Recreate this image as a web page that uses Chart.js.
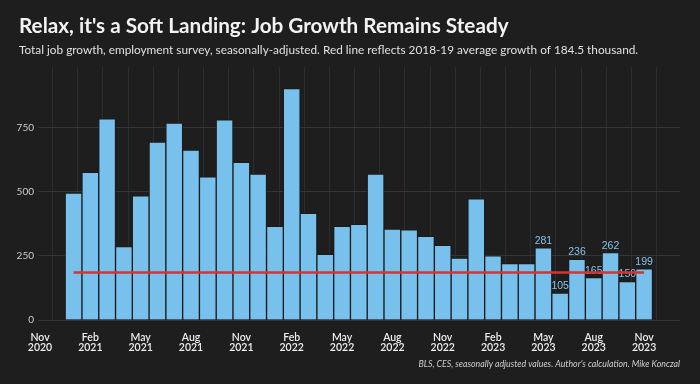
<!DOCTYPE html>
<html>
<head>
<meta charset="utf-8">
<script src="https://cdn.jsdelivr.net/npm/chart.js@4.4.0/dist/chart.umd.min.js"></script>
<style>
  html, body { margin: 0; padding: 0; background: #1e1e1e; }
  #wrap { width: 700px; height: 384px; position: relative; }
</style>
</head>
<body>
<div id="wrap"><canvas id="jobsChart"></canvas></div>
<script>
// data (thousands of jobs, monthly change)
const MONTHS = ['Jan', 'Feb', 'Mar', 'Apr', 'May', 'Jun', 'Jul', 'Aug', 'Sep', 'Oct', 'Nov', 'Dec'];

const months = [
  'Jan 2021', 'Feb 2021', 'Mar 2021', 'Apr 2021', 'May 2021', 'Jun 2021',
  'Jul 2021', 'Aug 2021', 'Sep 2021', 'Oct 2021', 'Nov 2021', 'Dec 2021',
  'Jan 2022', 'Feb 2022', 'Mar 2022', 'Apr 2022', 'May 2022', 'Jun 2022',
  'Jul 2022', 'Aug 2022', 'Sep 2022', 'Oct 2022', 'Nov 2022', 'Dec 2022',
  'Jan 2023', 'Feb 2023', 'Mar 2023', 'Apr 2023', 'May 2023', 'Jun 2023',
  'Jul 2023', 'Aug 2023', 'Sep 2023', 'Oct 2023', 'Nov 2023'
];
const jobs = [
  494, 575, 783, 286, 483, 693, 767, 662, 557, 779, 614, 568,
  365, 901, 415, 256, 365, 372, 568, 354, 351, 326, 291, 241,
  472, 250, 220, 220, 281, 105, 236, 165, 262, 150, 199
];
const labelledMonths = ['May 2023', 'Jun 2023', 'Jul 2023', 'Aug 2023', 'Sep 2023', 'Oct 2023', 'Nov 2023'];

const xTickLabels = ['Nov 2020', 'Feb 2021', 'May 2021', 'Aug 2021', 'Nov 2021', 'Feb 2022', 'May 2022',
  'Aug 2022', 'Nov 2022', 'Feb 2023', 'May 2023', 'Aug 2023', 'Nov 2023'];
const yTicks = [0, 250, 500, 750];

const avgGrowth = 184.5;           // 2018-19 average
const avgSpan = ['Jan 2021', 'Nov 2023'];

// months counted from Nov 2020
function monthIndex(label) {
  const [m, y] = label.split(' ');
  return (Number(y) - 2020) * 12 + MONTHS.indexOf(m) - 10;
}

const majorTicks = xTickLabels.map(monthIndex);
const gridTicks = majorTicks.concat(majorTicks.map(v => v + 1.5)).sort((a, b) => a - b);

const barColor = '#77c1ec';
const labelColor = '#86c2ea';

const valueLabels = {
  id: 'valueLabels',
  afterDatasetDraw(chart, args) {
    if (args.index !== 0) return;
    const ctx = chart.ctx;
    ctx.save();
    ctx.font = '10.5px "Liberation Sans", Arial, sans-serif';
    ctx.fillStyle = labelColor;
    ctx.textAlign = 'center';
    ctx.textBaseline = 'middle';
    args.meta.data.forEach((bar, i) => {
      if (labelledMonths.includes(months[i])) {
        ctx.fillText(String(jobs[i]), bar.x, bar.y - 7);
      }
    });
    ctx.restore();
  }
};

const texts = {
  id: 'texts',
  afterDraw(chart) {
    const ctx = chart.ctx;
    ctx.save();
    ctx.textAlign = 'left';
    ctx.textBaseline = 'alphabetic';
    ctx.fillStyle = '#f2f2f2';
    ctx.font = 'bold 20.7px Lato, sans-serif';
    ctx.fillText("Relax, it's a Soft Landing: Job Growth Remains Steady", 19, 33);
    ctx.fillStyle = '#e0e0e0';
    ctx.font = '11.8px Lato, sans-serif';
    ctx.fillText('Total job growth, employment survey, seasonally-adjusted. Red line reflects 2018-19 average growth of 184.5 thousand.', 19, 54);
    ctx.textAlign = 'right';
    ctx.textBaseline = 'middle';
    ctx.fillStyle = '#cfcfcf';
    ctx.font = 'italic 8.8px Lato, sans-serif';
    ctx.fillText("BLS, CES, seasonally adjusted values. Author's calculation. Mike Konczal", 680, 364);
    ctx.restore();
  }
};

new Chart(document.getElementById('jobsChart'), {
  data: {
    datasets: [
      {
        type: 'bar',
        data: months.map((m, i) => ({ x: monthIndex(m), y: jobs[i] })),
        backgroundColor: barColor,
        borderColor: '#1a1a1a',
        borderWidth: 1,
        borderSkipped: 'bottom',
        barPercentage: 1,
        categoryPercentage: 1,
        order: 1
      },
      {
        type: 'line',
        data: avgSpan.map(m => ({ x: monthIndex(m), y: avgGrowth })),
        borderColor: '#d8332c',
        borderWidth: 2.5,
        pointRadius: 0,
        order: 0
      }
    ]
  },
  options: {
    responsive: true,
    maintainAspectRatio: false,
    animation: false,
    layout: { padding: { top: 67, right: 20, left: 0, bottom: 0 } },
    plugins: {
      legend: { display: false },
      tooltip: { enabled: false }
    },
    scales: {
      x: {
        type: 'linear',
        min: -0.12,
        max: 38.14,
        offset: false,
        afterFit: s => { s.height = 64; },
        afterBuildTicks: s => { s.ticks = gridTicks.map(v => ({ value: v })); },
        border: { display: false },
        grid: { color: '#2d2d2d', drawTicks: false },
        ticks: {
          autoSkip: false,
          maxRotation: 0,
          padding: 12,
          color: '#eeeeee',
          font: { family: 'Lato, sans-serif', size: 10.5, weight: '600', lineHeight: 1.0 },
          callback: v => {
            const k = majorTicks.indexOf(v);
            return k >= 0 ? xTickLabels[k].split(' ') : '';
          }
        }
      },
      y: {
        min: 0,
        max: 985,
        afterFit: s => { s.width = 38; },
        afterBuildTicks: s => { s.ticks = yTicks.map(v => ({ value: v })); },
        border: { display: false },
        grid: { color: '#353535', drawTicks: false },
        ticks: {
          padding: 4,
          color: '#cccccc',
          font: { family: 'Lato, sans-serif', size: 10 }
        }
      }
    }
  },
  plugins: [valueLabels, texts]
});
</script>
</body>
</html>
